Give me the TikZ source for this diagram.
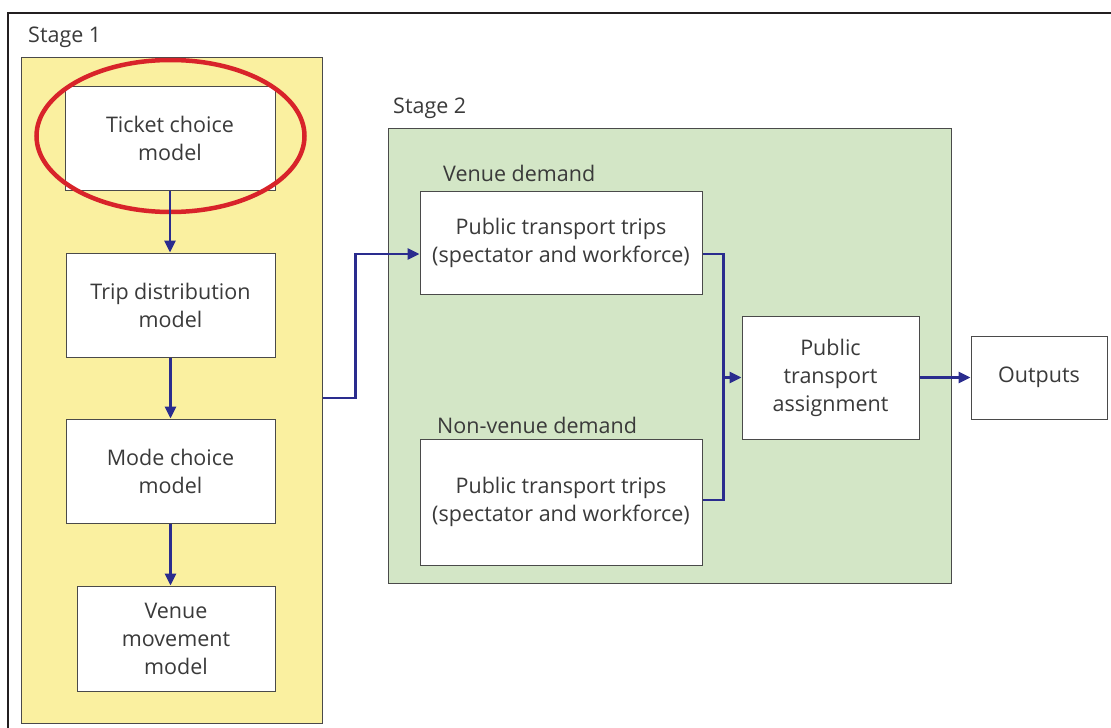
\documentclass[tikz,border=0pt]{standalone}
\usepackage{fontspec}
\setmainfont{Open Sans}
\usetikzlibrary{arrows.meta}

\definecolor{framegray}{HTML}{231F20}
\definecolor{boxline}{HTML}{4A4A4A}
\definecolor{txt}{HTML}{3A3A3A}
\definecolor{stageyellow}{HTML}{FAF0A0}
\definecolor{stagegreen}{HTML}{D3E6C6}
\definecolor{flowblue}{HTML}{2A2C8E}
\definecolor{markred}{HTML}{D8232A}

\tikzset{
  panel/.style={draw=boxline, line width=1pt, inner sep=0pt},
  model/.style={draw=boxline, fill=white, line width=1pt, inner sep=0pt,
    align=center, text=txt, font=\fontsize{21.5}{28}\selectfont},
  caption/.style={anchor=west, inner sep=0pt, text=txt,
    font=\fontsize{21.5}{24}\selectfont},
  wire/.style={draw=flowblue, line width=2.8pt},
  flow/.style={wire, -{Triangle[length=12pt,width=11pt]}},
}

\begin{document}
\begin{tikzpicture}[x=1pt,y=-1pt]
\useasboundingbox (0,0) rectangle (1111,728);

% outer frame, running off the page on the right and bottom
\begin{scope}
  \clip (0,0) rectangle (1111,728);
  \draw[framegray, line width=2.5pt] (8,760) -- (8,13) -- (1130,13);
\end{scope}

% stage panels
\node[panel, fill=stageyellow, minimum width=301pt, minimum height=666pt] (stage1) at (171.5,390) {};
\node[panel, fill=stagegreen, minimum width=563pt, minimum height=455pt] (stage2) at (669.5,355.5) {};

\node[caption] (s1lab) at (28,37) {Stage 1};
\node[caption] (s2lab) at (393,108) {Stage 2};
\node[caption] (vdlab) at (443,173) {Venue demand};
\node[caption] (nvlab) at (437,425) {Non-venue demand};

% stage 1 models
\node[model, minimum width=210pt, minimum height=104pt] (ticket) at (170,138) {Ticket choice\\model};
\node[model, minimum width=209pt, minimum height=104pt] (trip) at (170.5,305) {Trip distribution\\model};
\node[model, minimum width=209pt, minimum height=104pt] (mode) at (170.5,471) {Mode choice\\model};
\node[model, minimum width=198pt, minimum height=105pt] (venue) at (176,638.5) {Venue\\movement\\model};

% stage 2 boxes
\node[model, minimum width=282pt, minimum height=103pt] (ptv) at (561,242.5) {Public transport trips\\(spectator and workforce)};
\node[model, minimum width=282pt, minimum height=126pt] (ptn) at (561,502) {Public transport trips\\(spectator and workforce)};
\node[model, minimum width=177pt, minimum height=123pt] (assign) at (830.5,377.5) {Public\\transport\\assignment};
\node[model, minimum width=136pt, minimum height=83pt] (out) at (1039,377.5) {Outputs};

% highlight ring
\draw[markred, line width=4.5pt] (170.5,136) ellipse [x radius=134pt, y radius=76pt];

% stage 1 flow
\draw[flow] (ticket.south) -- (ticket.south |- trip.north);
\draw[flow] (trip.south) -- (mode.north);
\draw[flow] (mode.south) -- (mode.south |- venue.north);

% stage 1 to stage 2
\draw[flow] ([yshift=-8pt]stage1.east) -- ++(33,0) |- ([yshift=-11.5pt]ptv.west);

% merge of both demands into assignment
\coordinate (bus) at (723,377.5);
\draw[wire, line join=miter] ([yshift=-11.5pt]ptv.east) -| ([xshift=21pt,yshift=2pt]ptn.east) -- ([yshift=2pt]ptn.east);
\draw[flow] (bus) -- (assign.west);
\draw[flow] (assign.east) -- (out.west);
\end{tikzpicture}
\end{document}
